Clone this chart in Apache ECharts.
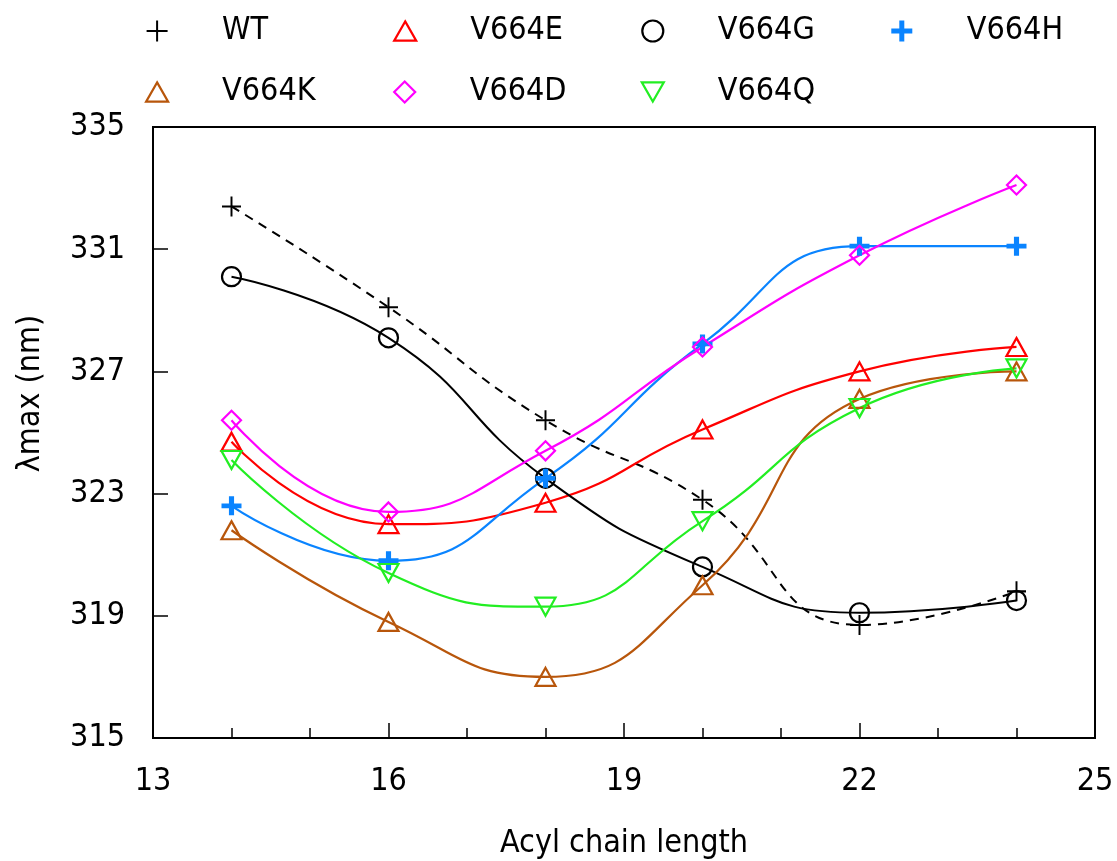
<!DOCTYPE html>
<html>
<head>
<meta charset="utf-8">
<script src="https://cdn.jsdelivr.net/npm/echarts@6/dist/echarts.min.js"></script>
<style>
  html, body { margin: 0; padding: 0; background: #ffffff; }
  #chart { width: 1117px; height: 861px; }
</style>
</head>
<body>
<div id="chart"></div>
<script>
// Acyl chain length (x) and absorption maximum λmax in nm for each variant
const chainLength = [14, 16, 18, 20, 22, 24];
const wt    = [332.4, 329.1, 325.4, 322.8, 318.7, 319.8];
const v664E = [324.7, 322.0, 322.7, 325.1, 327.0, 327.8];
const v664G = [330.1, 328.1, 323.5, 320.6, 319.1, 319.5];
const v664H = [322.6, 320.8, 323.5, 327.9, 331.1, 331.1];
const v664K = [321.8, 318.8, 317.0, 320.0, 326.1, 327.0];
const v664D = [325.4, 322.4, 324.4, 327.8, 330.8, 333.1];
const v664Q = [324.1, 320.4, 319.3, 322.1, 325.8, 327.1];

// Axis ranges and tick steps
const xRange = [13, 25];
const xStep = 3;
const yRange = [315, 335];
const yStep = 4;

const FONT = '"DejaVu Sans Condensed", "DejaVu Sans", Verdana, sans-serif';

const SYM = {
  plus: 'path://M0,8L16,8M8,0L8,16',
  up: 'path://M8,0L16,14L0,14Z',
  down: 'path://M0,0L16,0L8,14Z',
  diamond: 'path://M8,0L16,8L8,16L0,8Z',
  circle: 'circle'
};

function pairs(ys) {
  return chainLength.map((x, i) => [x, ys[i]]);
}

function makeSeries(name, ys, color, symbol, size, markerWidth, lineExtra) {
  const hollow = symbol !== SYM.plus;
  return {
    name: name,
    type: 'line',
    data: pairs(ys),
    smooth: 0.5,
    symbol: symbol,
    symbolSize: size,
    showAllSymbol: true,
    lineStyle: Object.assign({ color: color, width: 2.2 }, lineExtra || {}),
    itemStyle: {
      color: hollow ? 'transparent' : color,
      borderColor: color,
      borderWidth: markerWidth
    },
    emphasis: { disabled: true },
    z: 2
  };
}

const series = [
  makeSeries('WT', wt, '#000000', SYM.plus, [19, 20], 2, { type: [9, 7], width: 2 }),
  makeSeries('V664E', v664E, '#ff0000', SYM.up, [20, 18], 2.2),
  makeSeries('V664G', v664G, '#000000', SYM.circle, 19, 2.2, { width: 2 }),
  makeSeries('V664H', v664H, '#0a84ff', SYM.plus, [20, 19], 5),
  makeSeries('V664K', v664K, '#b8560b', SYM.up, [20, 18], 2.2),
  makeSeries('V664D', v664D, '#ff00ff', SYM.diamond, [19, 19], 2.2),
  makeSeries('V664Q', v664Q, '#22ee22', SYM.down, [20, 18], 2.2)
];

const legendData = series.map(s => ({
  name: s.name,
  icon: s.symbol,
  itemStyle: {
    color: s.itemStyle.color,
    borderColor: s.itemStyle.borderColor,
    borderWidth: s.itemStyle.borderWidth
  }
}));

const chart = echarts.init(document.getElementById('chart'), null, { renderer: 'canvas' });

chart.setOption({
  animation: false,
  backgroundColor: '#ffffff',
  textStyle: { fontFamily: FONT },
  legend: {
    data: legendData,
    left: 140,
    top: 6,
    width: 1000,
    itemWidth: 22,
    itemHeight: 21,
    itemGap: 21,
    selectedMode: false,
    textStyle: {
      fontFamily: FONT,
      fontSize: 32,
      color: '#000000',
      width: 150,
      lineHeight: 40,
      padding: [0, 0, 0, 49]
    }
  },
  grid: {
    left: 153,
    right: 22,
    top: 127,
    bottom: 123,
    show: true,
    borderColor: '#000000',
    borderWidth: 2,
    containLabel: false,
    outerBoundsMode: 'none'
  },
  xAxis: {
    type: 'value',
    min: xRange[0],
    max: xRange[1],
    interval: xStep,
    name: 'Acyl chain length',
    nameLocation: 'middle',
    nameGap: 90,
    nameTextStyle: { fontFamily: FONT, fontSize: 32, color: '#000000' },
    axisLine: { show: true, onZero: false, lineStyle: { color: '#000000', width: 2 } },
    axisTick: { show: true, inside: true, length: 15, lineStyle: { color: '#000000', width: 1.5 } },
    minorTick: { show: true, splitNumber: 3, length: 10, lineStyle: { color: '#000000', width: 1.5 } },
    splitLine: { show: false },
    axisLabel: { fontFamily: FONT, fontSize: 32, color: '#000000', margin: 28 }
  },
  yAxis: {
    type: 'value',
    min: yRange[0],
    max: yRange[1],
    interval: yStep,
    name: 'λmax (nm)',
    nameLocation: 'middle',
    nameRotate: 90,
    nameGap: 106,
    nameTextStyle: {
      fontFamily: FONT,
      fontSize: 32,
      color: '#000000',
      padding: [0, 0, 0, 78]
    },
    axisLine: { show: true, onZero: false, lineStyle: { color: '#000000', width: 2 } },
    axisTick: { show: true, inside: true, length: 15, lineStyle: { color: '#000000', width: 1.5 } },
    splitLine: { show: false },
    axisLabel: { fontFamily: FONT, fontSize: 32, color: '#000000', margin: 28 }
  },
  series: series
});
</script>
</body>
</html>
